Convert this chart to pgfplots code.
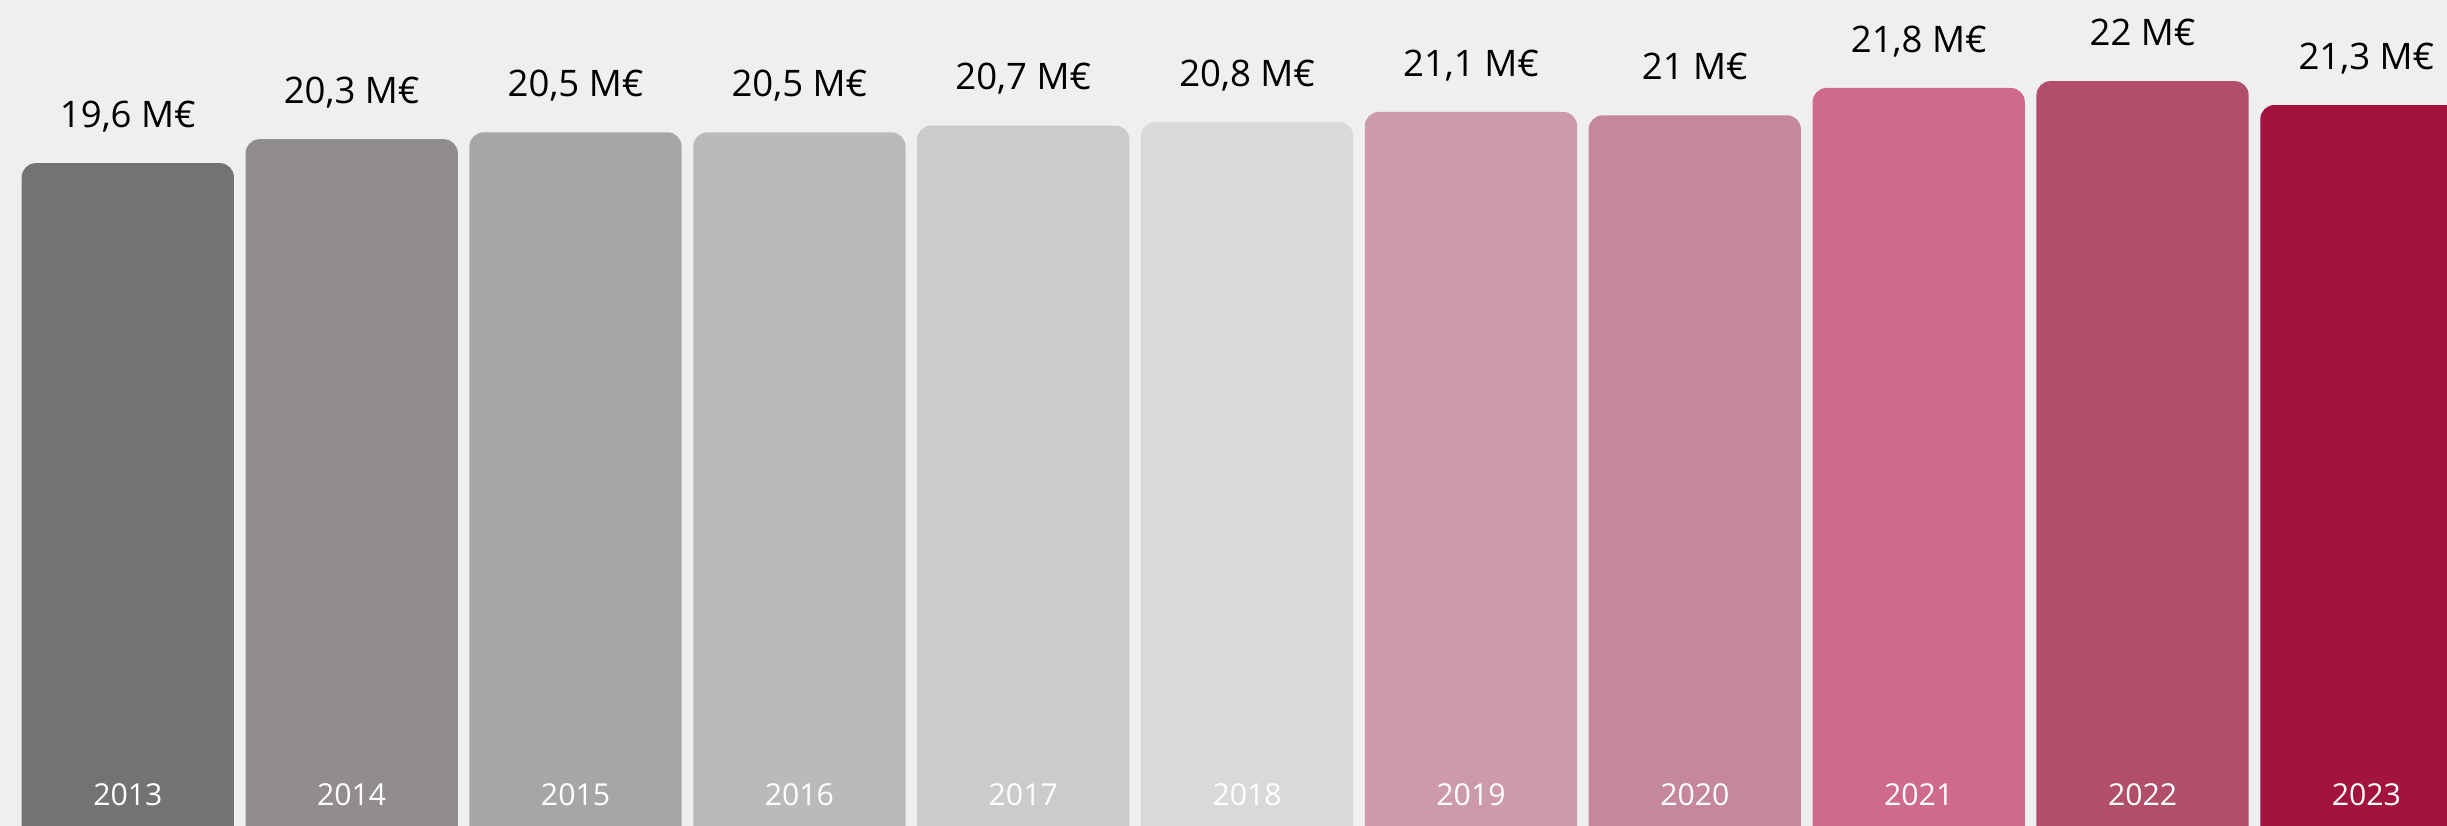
\documentclass[border=0pt]{standalone}
\usepackage{fontspec}
\setmainfont{Open Sans}
\usepackage{pgfplots}
\pgfplotsset{compat=1.18}
\definecolor{bg}{HTML}{EFEFEF}
\definecolor{c13}{HTML}{737373}
\definecolor{c14}{HTML}{918D8C}
\definecolor{c15}{HTML}{A6A6A6}
\definecolor{c16}{HTML}{BCBAB8}
\definecolor{c17}{HTML}{CBCBCB}
\definecolor{c18}{HTML}{D9D9D9}
\definecolor{c19}{HTML}{CC9AA9}
\definecolor{c20}{HTML}{C4889A}
\definecolor{c21}{HTML}{CF6B8A}
\definecolor{c22}{HTML}{B04E6B}
\definecolor{c23}{HTML}{A2133F}
\begin{document}
\begin{tikzpicture}
\path[use as bounding box, clip] (0,5.911mm) rectangle (244.7mm,88.41mm);
\begin{axis}[
  at={(0,0)}, anchor=south west,
  scale only axis,
  width=244.7mm, height=88.41mm,
  xmin=-0.571, xmax=10.36,
  y coord trafo/.code={\pgfmathparse{#1+1}},
  y coord inv trafo/.code={\pgfmathparse{#1-1}},
  ymin=-1.5, ymax=24.374,
  axis lines=none,
  xtick=\empty, ytick=\empty,
  axis background/.style={fill=bg},
  /pgf/number format/assume math mode=true,
  /pgf/number format/use comma,
  /pgf/number format/fixed,
  /pgf/number format/precision=1,
  bar/.style={ybar, bar width=0.948, bar shift=0pt, draw=none, fill=#1,
    rounded corners=1.4mm, point meta=explicit,
    nodes near coords={\pgfmathprintnumber{\pgfplotspointmeta}~M€},
    every node near coord/.append style={inner sep=0pt, text depth=0pt,
      yshift=3.5mm, font=\fontsize{10.4}{12.5}\selectfont, text=black}},
]
\addplot[bar=c13] coordinates {(0,19.6) [19.6]};
\addplot[bar=c14] coordinates {(1,20.3) [20.3]};
\addplot[bar=c15] coordinates {(2,20.5) [20.5]};
\addplot[bar=c16] coordinates {(3,20.5) [20.5]};
\addplot[bar=c17] coordinates {(4,20.7) [20.7]};
\addplot[bar=c18] coordinates {(5,20.8) [20.8]};
\addplot[bar=c19] coordinates {(6,21.1) [21.1]};
\addplot[bar=c20] coordinates {(7,21.0) [21.0]};
\addplot[bar=c21] coordinates {(8,21.8) [21.8]};
\addplot[bar=c22] coordinates {(9,22.0) [22.0]};
\addplot[bar=c23] coordinates {(10,21.3) [21.3]};
\addplot[draw=none, mark=none, point meta=explicit symbolic,
  nodes near coords,
  every node near coord/.append style={anchor=base, inner sep=0pt, text depth=0pt,
    font=\fontsize{8.6}{10}\selectfont, text=white}]
  coordinates {(0,0.81)[2013] (1,0.81)[2014] (2,0.81)[2015] (3,0.81)[2016]
  (4,0.81)[2017] (5,0.81)[2018] (6,0.81)[2019] (7,0.81)[2020]
  (8,0.81)[2021] (9,0.81)[2022] (10,0.81)[2023]};
\end{axis}
\end{tikzpicture}
\end{document}
